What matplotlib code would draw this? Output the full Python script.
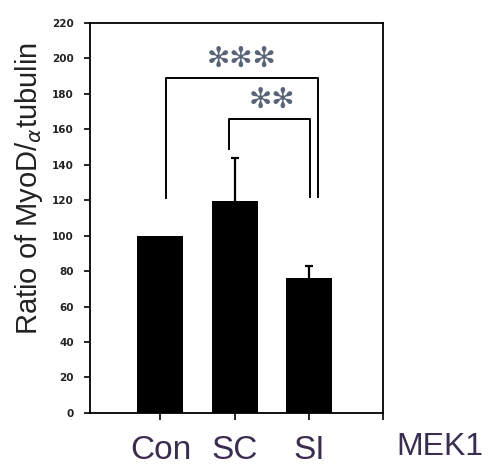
import matplotlib.pyplot as plt

# data
groups = ['Con', 'SC', 'SI']
ratio = [100, 119.5, 76]
err_up = [0, 24, 7]
yticks = list(range(0, 221, 20))

# significance brackets: (left x, right x, left foot, right foot, top y, label, label x)
brackets = [
    (0.08, 2.12, 121, 122, 189, '✻✻✻', 1.09),
    (0.93, 2.02, 149, 121.5, 166, '✻✻', 1.51),
]

fig = plt.figure(figsize=(4.89, 4.65), dpi=100)
ax = fig.add_axes([0.184, 0.112, 0.599, 0.839])

x = list(range(len(groups)))
ax.bar(x, ratio, width=0.62, color='black', zorder=2)
ex = [xi for xi, e in zip(x, err_up) if e > 0]
ey = [r for r, e in zip(ratio, err_up) if e > 0]
ee = [e for e in err_up if e > 0]
ax.errorbar(ex, ey, yerr=ee, fmt='none', ecolor='black',
            elinewidth=1.6, capsize=3, capthick=1.6, zorder=1)

for x0, x1, y0, y1, top, lab, lx in brackets:
    ax.plot([x0, x0, x1, x1], [y0, top, top, y1], color='black', lw=1.4)
    ax.text(lx, top + 2.5, lab, ha='center', va='bottom', fontsize=20,
            color='#5a6478', family='DejaVu Sans')

ax.set_xlim(-0.95, 3.0)
ax.set_ylim(0, 220)
ax.set_yticks(yticks)
ax.set_yticklabels([str(v) for v in yticks], fontsize=7.5, fontweight='bold',
                   color='#222222')
ax.set_xticks([0, 1, 2, 3.0])
ax.set_xticklabels(groups + [''], fontsize=24, color='#3b2d50',
                   family='Liberation Sans')
ax.tick_params(axis='y', direction='out', length=4.5, width=1.2, pad=7)
ax.tick_params(axis='x', direction='out', length=5, width=1.2, pad=11)
for s in ax.spines.values():
    s.set_linewidth(1.3)

ax.set_ylabel('Ratio of MyoD/$_{\\alpha}$tubulin', fontsize=21,
              family='Liberation Sans', color='#222222', labelpad=5)
ax.yaxis.label.set_y(0.575)

fig.text(0.9, 0.022, 'MEK1', fontsize=23, color='#3b2d50',
         family='Liberation Sans', ha='center', va='baseline')

fig.savefig('out.png', dpi=100)
